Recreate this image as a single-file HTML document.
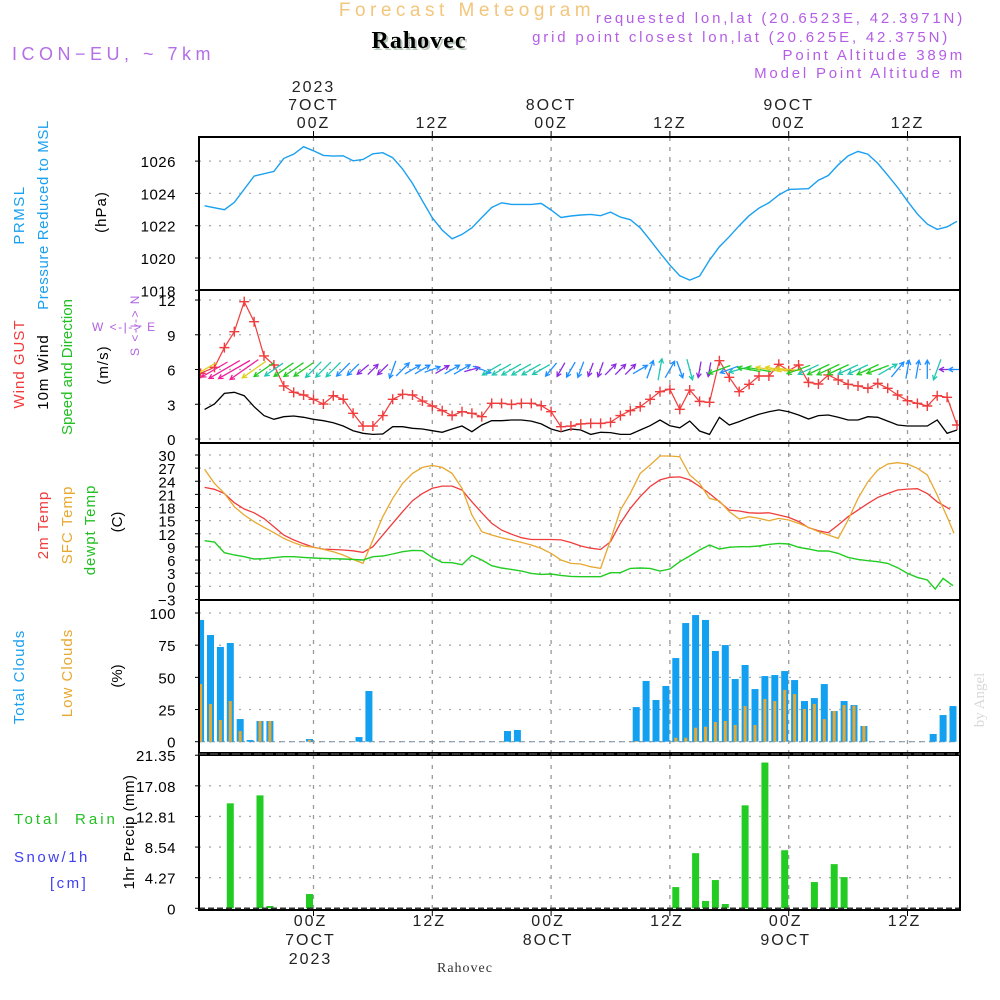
<!DOCTYPE html>
<html><head><meta charset="utf-8"><title>Forecast Meteogram Rahovec</title>
<style>
html,body{margin:0;padding:0;background:#fff;}
svg{display:block;font-family:"Liberation Sans",sans-serif;}
</style></head>
<body>
<svg id="chart" width="1000" height="1000" viewBox="0 0 1000 1000" xmlns="http://www.w3.org/2000/svg">
<rect x="0" y="0" width="1000" height="1000" fill="#fff"/>
<g>
<text x="467" y="16" text-anchor="middle" font-size="19" fill="#f3c67c" letter-spacing="4.5">Forecast Meteogram</text>
<text x="421" y="50" text-anchor="middle" font-size="24" font-weight="bold" font-family="Liberation Serif, serif" fill="#b8c8b8" letter-spacing="1">Rahovec</text>
<text x="419" y="48" text-anchor="middle" font-size="24" font-weight="bold" font-family="Liberation Serif, serif" fill="#000" letter-spacing="1">Rahovec</text>
<text x="12" y="60" font-size="18" fill="#b46ee6" letter-spacing="4.5">ICON−EU, ~ 7km</text>
<text x="965" y="23" text-anchor="end" font-size="15" fill="#b45ee6" letter-spacing="2.8">requested lon,lat (20.6523E, 42.3971N)</text>
<text x="950" y="42" text-anchor="end" font-size="15" fill="#b45ee6" letter-spacing="2.8">grid point closest lon,lat (20.625E, 42.375N)</text>
<text x="965" y="60" text-anchor="end" font-size="15" fill="#b45ee6" letter-spacing="2.8">Point Altitude 389m</text>
<text x="965" y="78" text-anchor="end" font-size="15" fill="#b45ee6" letter-spacing="2.8">Model Point Altitude m</text>
</g>
<g font-size="15">
<text transform="translate(24,215) rotate(-90)" text-anchor="middle" fill="#1aa0f0" letter-spacing="1.5">PRMSL</text>
<text transform="translate(48,215) rotate(-90)" text-anchor="middle" fill="#1aa0f0" letter-spacing="0.6">Pressure Reduced to MSL</text>
<text transform="translate(106,212) rotate(-90)" text-anchor="middle" fill="#000" letter-spacing="1">(hPa)</text>
<text transform="translate(24,364) rotate(-90)" text-anchor="middle" fill="#f03c3c" letter-spacing="1">Wind GUST</text>
<text transform="translate(48,372) rotate(-90)" text-anchor="middle" fill="#000" letter-spacing="1">10m Wind</text>
<text transform="translate(72,367) rotate(-90)" text-anchor="middle" fill="#22c022">Speed and Direction</text>
<text transform="translate(108,365) rotate(-90)" text-anchor="middle" fill="#000" letter-spacing="1">(m/s)</text>
<text x="92" y="331" font-size="12" fill="#b060e0" letter-spacing="1.5">W &lt;-|-&gt; E</text>
<text transform="translate(139,325) rotate(-90)" text-anchor="middle" font-size="12" fill="#b060e0" letter-spacing="1.5">S &lt;-|-&gt; N</text>
<text transform="translate(48,525) rotate(-90)" text-anchor="middle" fill="#f03c3c" letter-spacing="1">2m Temp</text>
<text transform="translate(72,525) rotate(-90)" text-anchor="middle" fill="#e8a830" letter-spacing="1">SFC Temp</text>
<text transform="translate(95,530) rotate(-90)" text-anchor="middle" fill="#22c022" letter-spacing="1">dewpt Temp</text>
<text transform="translate(122,522) rotate(-90)" text-anchor="middle" fill="#000">(C)</text>
<text transform="translate(24,677) rotate(-90)" text-anchor="middle" fill="#1aa0f0" letter-spacing="1">Total Clouds</text>
<text transform="translate(72,673) rotate(-90)" text-anchor="middle" fill="#e8a830" letter-spacing="1">Low Clouds</text>
<text transform="translate(122,676) rotate(-90)" text-anchor="middle" fill="#000">(%)</text>
<text x="14" y="824" fill="#22c022" letter-spacing="3" xml:space="preserve">Total  Rain</text>
<text x="14" y="862" fill="#4040f0" letter-spacing="2.5">Snow/1h</text>
<text x="50" y="888" fill="#4040f0" letter-spacing="2.5">[cm]</text>
<text transform="translate(134,832) rotate(-90)" text-anchor="middle" fill="#000" letter-spacing="0.5">1hr Precip (mm)</text>
<text transform="translate(984,700) rotate(-90)" text-anchor="middle" font-family="Liberation Serif, serif" font-size="15" fill="#d8d8d8">by Angel</text>
<text x="465" y="972" text-anchor="middle" font-family="Liberation Serif, serif" font-size="14" fill="#333" letter-spacing="1">Rahovec</text>
</g>
<g id="plots"></g>
</svg>
<script>
// ---------- data ----------
const timeTicks = [0, 12, 24, 36, 48, 60];
const timeTickLabels = ["00Z", "12Z", "00Z", "12Z", "00Z", "12Z"];
const dayLabels = ["7OCT", "", "8OCT", "", "9OCT", ""];

const pHours = [-11,-9,-8,-6,-4,-3,-2,-1,0,1,2,3,4,5,6,7,8,9,10,11,12,13,14,15,16,17,18,19,20,21,22,23,24,25,26,27,28,29,30,31,32,33,34,35,36,37,38,39,40,41,42,43,44,45,46,47,48,50,51,52,53,54,55,56,57,58,59,60,61,62,63,64,65];
const pValues = [1023.23,1022.99,1023.44,1025.07,1025.36,1026.17,1026.43,1026.89,1026.64,1026.35,1026.31,1026.33,1026.02,1026.10,1026.45,1026.52,1026.21,1025.51,1024.62,1023.54,1022.49,1021.73,1021.19,1021.46,1021.87,1022.51,1023.13,1023.42,1023.32,1023.32,1023.32,1023.38,1022.97,1022.51,1022.6,1022.66,1022.7,1022.62,1022.84,1022.53,1022.37,1021.87,1021.11,1020.32,1019.56,1018.9,1018.63,1018.88,1019.87,1020.7,1021.32,1022.0,1022.62,1023.09,1023.42,1023.9,1024.25,1024.29,1024.82,1025.11,1025.77,1026.33,1026.6,1026.43,1025.86,1025.13,1024.37,1023.52,1022.72,1022.1,1021.77,1021.93,1022.27];
const pTicks = [1018, 1020, 1022, 1024, 1026];

const gustFirstHour = -11.4;
const gustValues = [5.67,6.19,7.89,9.27,11.86,10.13,7.17,6.39,4.58,4.03,3.80,3.43,3.02,3.74,3.43,2.22,1.12,1.12,2.02,3.43,3.86,3.80,3.28,2.85,2.45,2.02,2.36,2.22,1.93,3.08,3.08,2.99,3.08,3.08,2.88,2.36,1.06,1.12,1.30,1.35,1.35,1.44,2.02,2.45,2.79,3.43,4.09,4.29,2.56,4.23,3.25,3.17,6.76,5.33,4.09,4.72,5.44,5.44,6.45,5.90,6.39,4.89,4.75,5.53,5.10,4.72,4.58,4.38,4.81,4.38,3.80,3.31,3.08,2.85,3.74,3.60,1.21];
const windStartHour = -11;
const windSpeed = [2.56,3.02,3.94,4.03,3.74,2.79,2.02,1.70,1.93,1.99,1.87,1.70,1.58,1.41,1.12,0.72,0.49,0.40,0.43,1.06,1.06,0.92,0.86,0.72,0.58,0.86,1.12,0.63,1.21,1.58,1.58,1.64,1.64,1.55,1.30,0.86,0.63,0.86,0.78,0.40,0.58,0.55,0.40,0.40,0.78,1.15,1.64,1.15,0.97,1.55,0.69,0.40,1.87,1.21,1.50,1.84,2.13,2.36,2.51,2.36,2.07,1.73,2.02,2.07,1.87,1.64,1.64,1.93,1.87,1.55,1.21,1.12,1.12,1.12,1.64,0.49,0.78];
// direction the arrow points to (compass degrees, 0 = north/up)
const windDirTo = [240,240,240,240,235,235,235,235,235,235,235,225,225,225,225,225,230,45,225,200,45,60,60,70,60,60,60,75,110,240,240,240,240,240,240,220,210,210,200,200,200,45,45,45,60,20,10,30,160,165,190,190,250,250,255,280,280,280,280,275,250,245,245,245,245,245,245,245,250,60,40,10,10,0,200,270,270];
const windTicks = [0, 3, 6, 9, 12];

const tempStartHour = -11;
const temp2m = [22.6,22.15,21.2,19.1,17.65,16.8,15.5,13.6,11.7,10.6,9.7,8.9,8.5,8.4,8.3,8.1,7.75,9.05,11.7,14.4,17.05,19.55,21.2,22.4,22.9,22.9,22.0,19.3,16.8,14.4,12.85,11.9,11.1,10.7,10.7,10.7,10.6,10.0,9.2,8.7,8.4,10.2,14.4,17.8,20.5,22.8,24.3,24.9,25.0,24.3,22.8,21.2,19.3,17.4,17.2,16.8,16.7,16.8,16.3,15.75,14.8,13.4,12.7,12.25,14.0,15.9,17.4,18.95,20.3,21.2,22.0,22.2,22.3,21.2,19.3,17.6];
const temp2mLastHour = 64.3;
const tempSfc = [26.72,23.52,21.23,18.19,16.28,14.76,13.47,12.25,10.95,9.96,9.2,8.9,8.44,7.9,7.14,6.15,5.24,10.57,15.9,20.09,23.52,25.8,27.17,27.63,27.17,25.8,22.38,16.28,12.48,11.71,11.1,10.57,10.04,9.43,8.67,7.52,6.0,5.24,5.09,4.48,4.1,10.57,17.43,21.23,25.8,27.71,29.76,29.76,29.61,25.42,23.52,20.09,19.48,17.04,15.37,15.9,15.52,14.99,15.52,15.14,14.38,13.47,12.48,11.71,10.95,15.14,20.09,23.9,26.57,27.94,28.24,27.94,26.95,25.42,20.85,15.9,12.1];
const tempSfcLastHour = 64.7;
const dewpt = [10.42,10.11,7.68,7.14,6.76,6.23,6.31,6.53,6.76,6.76,6.61,6.46,6.38,6.31,6.23,6.15,6.0,6.76,6.92,7.37,7.9,8.21,8.13,6.61,5.47,5.39,4.94,7.07,6.0,4.71,4.17,3.87,3.49,2.95,2.73,2.8,2.5,2.27,2.19,2.19,2.19,3.11,3.11,4.1,4.17,4.1,3.49,3.95,5.62,6.92,8.29,9.43,8.52,8.9,9.05,9.05,9.2,9.58,9.81,9.66,8.9,8.52,8.06,8.06,7.52,6.61,6.15,5.85,5.62,5.24,4.25,2.95,2.04,1.43,-0.62,1.81,0.14];
const dewptTailHours = [62.8, 63.6, 64.6];
const tempTicks = [-3,0,3,6,9,12,15,18,21,24,27,30];

const cloudStartHour = -11;
const totalClouds = [94.6,82.9,73.6,76.7,17.6,1.3,16.1,16.1,0,0,0,2.1,0,0,0,0,3.6,39.4,0,0,0,0,0,0,0,0,0,0,0,0,0,8.3,9.1,0,0,0,0,0,0,0,0,0,0,0,26.9,47.2,32.4,43.3,65,92.2,98.4,94.6,70.5,75.1,48.7,59.6,40.9,51,51.8,54.9,47.9,31.6,33.9,44.8,23.8,31.6,28.5,12.2,0,0,0,0,0,0,6,20.7,27.7];
const lowClouds = [44.8,29.3,16.8,31.6,8.3,0,16.1,16.1,0,0,0,1.5,0,0,0,0,0,0,0,0,0,0,0,0,0,0,0,0,0,0,0,0,0,0,0,0,0,0,0,0,0,0,0,0,0.5,0,0,0,3.1,3.1,10.9,11.7,15.3,16.1,13.0,27.7,13.0,33.2,31.6,40.2,37.0,25.4,29.3,17.6,23.8,28.5,28.0,12.2,0,0,0,0,0,0,0,0,0];
const cloudTicks = [0, 25, 50, 75, 100];

const precipHours = [-8,-5,-4,0,37,39,40,41,42,44,46,48,51,53,54];
const precipValues = [14.64,15.75,0.32,1.99,2.96,7.69,1.02,3.94,0.6,14.36,20.33,8.1,3.66,6.16,4.35];
const precipTicks = [0, 4.27, 8.54, 12.81, 17.08, 21.35];

// ---------- scales ----------
const X0 = 199, X1 = 960;
function xH(h){ return 313.5 + 9.9*h; }
function yP(v){ return 258 - (v-1020)*16.15; }
function yW(v){ return 439 - v*11.58; }
function yT(v){ return 586.3 - v*4.377; }
function yC(v){ return 741.7 - v*1.287; }
function yR(v){ return 908.3 - v*7.17; }

const NS = "http://www.w3.org/2000/svg";
const root = document.getElementById("plots");
function mk(tag, attrs, parent){
  const e = document.createElementNS(NS, tag);
  for (const k in attrs) e.setAttribute(k, attrs[k]);
  (parent||root).appendChild(e);
  return e;
}

const defs = mk("defs", {});
const cp = mk("clipPath", {id:"plotclip"}, defs);
mk("rect", {x:X0, y:137, width:X1-X0, height:775}, cp);

const panels = [
  {name:"pressure", top:137, bot:290, ticks:pTicks, fy:yP, fmt:v=>String(v)},
  {name:"wind", top:290, bot:443, ticks:windTicks, fy:yW, fmt:v=>String(v)},
  {name:"temperature", top:443, bot:600, ticks:tempTicks, fy:yT, fmt:v=>(v<0?"−"+(-v):String(v))},
  {name:"clouds", top:600, bot:753, ticks:cloudTicks, fy:yC, fmt:v=>String(v)},
  {name:"precip", top:755, bot:910, ticks:precipTicks, fy:yR, fmt:v=>(v===0?"0":v.toFixed(2))}
];

panels.forEach(p => {
  const g = mk("g", {});
  
  
  p.ticks.forEach(t => {
    const y = p.fy(t);
    if (y > p.top + 2 && y < p.bot - 2) {
      const gl = mk("line", {x1:X0, x2:X1, y1:y, y2:y, stroke:"#aaa", "stroke-width":1.3, "stroke-dasharray":"2,8"}, g);
      
      
    }
    const tk = mk("line", {x1:X0-4, x2:X0, y1:y, y2:y, stroke:"#000", "stroke-width":1}, g);
    
    
    const tl = mk("text", {x:176, y:y+6, "text-anchor":"end", "font-size":15, fill:"#000", "letter-spacing":"0.5"}, g);
    tl.textContent = p.fmt(t);
    
    
  });
  timeTicks.forEach(h => {
    const vl = mk("line", {x1:xH(h), x2:xH(h), y1:p.top, y2:p.bot, stroke:"#999", "stroke-width":1.3, "stroke-dasharray":"4,6"}, g);
    
    
  });
});

function polyline(hours, vals, fy, color, name, width){
  const pts = hours.map((h,i) => xH(h).toFixed(1) + "," + fy(vals[i]).toFixed(1)).join(" ");
  const pl = mk("polyline", {points:pts, fill:"none", stroke:color, "stroke-width":width||1.3, "clip-path":"url(#plotclip)"});
  
  
  return pl;
}
function seq(start, n){ const a=[]; for(let i=0;i<n;i++) a.push(start+i); return a; }

polyline(pHours, pValues, yP, "#1aa0f0", "pressure-line", 1.4);

const windHours = seq(windStartHour, windSpeed.length);
polyline(windHours, windSpeed, yW, "#000", "wind-speed-line", 1.3);

const gustHours = [gustFirstHour].concat(seq(-10, gustValues.length-1));
polyline(gustHours, gustValues, yW, "#f03c3c", "gust-line", 1.2);
gustHours.forEach((h,i) => {
  const x = xH(h), y = yW(gustValues[i]);
  if (x < X0-1 || x > X1+1) return;
  const c = mk("path", {d:`M${x-5},${y}H${x+5}M${x},${y-5}V${y+5}`, stroke:"#f03c3c", "stroke-width":1.4, "clip-path":"url(#plotclip)"});
  
  
});

function speedColor(s){
  if (s < 0.7) return "#8a2be2";
  if (s < 1.3) return "#1e90ff";
  if (s < 1.8) return "#20c8b0";
  if (s < 2.3) return "#22cc22";
  if (s < 3.0) return "#e0d020";
  return "#f0209a";
}
windHours.forEach((h,i) => {
  const s = windSpeed[i], d = windDirTo[i]*Math.PI/180;
  const L = 12 + s*6;
  const cx = xH(h), cy = yW(6);
  const dx = Math.sin(d)*L/2, dy = -Math.cos(d)*L/2;
  const x1 = cx-dx, y1 = cy-dy, x2 = cx+dx, y2 = cy+dy;
  const a = Math.atan2(y2-y1, x2-x1);
  const hl = 5;
  const hx1 = x2 - hl*Math.cos(a-0.5), hy1 = y2 - hl*Math.sin(a-0.5);
  const hx2 = x2 - hl*Math.cos(a+0.5), hy2 = y2 - hl*Math.sin(a+0.5);
  const col = speedColor(s);
  const ar = mk("path", {d:`M${x1.toFixed(1)},${y1.toFixed(1)}L${x2.toFixed(1)},${y2.toFixed(1)}M${hx1.toFixed(1)},${hy1.toFixed(1)}L${x2.toFixed(1)},${y2.toFixed(1)}L${hx2.toFixed(1)},${hy2.toFixed(1)}`, stroke:col, "stroke-width":1.3, fill:"none", "clip-path":"url(#plotclip)"});
  
  
});

const t2Hours = seq(tempStartHour, temp2m.length-1).concat([temp2mLastHour]);
polyline(t2Hours, temp2m, yT, "#f03c3c", "temp-2m-line", 1.3);
const tsHours = seq(tempStartHour, tempSfc.length-1).concat([tempSfcLastHour]);
polyline(tsHours, tempSfc, yT, "#e8a830", "temp-sfc-line", 1.3);
const dpHours = seq(tempStartHour, dewpt.length-dewptTailHours.length).concat(dewptTailHours);
polyline(dpHours, dewpt, yT, "#22cc22", "dewpoint-line", 1.4);

const cBase = mk("line", {x1:X0, x2:X1, y1:yC(0), y2:yC(0), stroke:"#8899aa", "stroke-width":1.2, "stroke-dasharray":"6,4"});


totalClouds.forEach((v,i) => {
  const h = cloudStartHour + i;
  const xc = xH(h) - 4;
  if (v > 0) {
    const b = mk("rect", {x:xc-3.5, y:yC(v), width:7, height:yC(0)-yC(v), fill:"#14a0f0", "clip-path":"url(#plotclip)"});
    
    
  }
  const lv = lowClouds[i];
  if (lv > 0) {
    const lb = mk("rect", {x:xc-1.5, y:yC(lv), width:3, height:yC(0)-yC(lv), fill:"#e8a830", "clip-path":"url(#plotclip)"});
    
    
  }
});

precipHours.forEach((h,i) => {
  const v = precipValues[i];
  const xc = xH(h) - 4;
  const b = mk("rect", {x:xc-3.5, y:yR(v), width:7, height:yR(0)-yR(v), fill:"#22cc22"});
  
  
});
const pBase = mk("line", {x1:X0, x2:X1, y1:yR(0), y2:yR(0), stroke:"#333", "stroke-width":1.5, "stroke-dasharray":"6,3"});



panels.forEach(p => {
  const f = mk("rect", {x:X0, y:p.top, width:X1-X0, height:p.bot-p.top, fill:"none", stroke:"#000", "stroke-width":2});
  
  
});
const sep = mk("line", {x1:X0, x2:X1, y1:754, y2:754, stroke:"#444", "stroke-width":1.5, "stroke-dasharray":"8,3"});



const ls = "2";
timeTicks.forEach((h,i) => {
  const x = xH(h);
  const tt = mk("line", {x1:x, x2:x, y1:131, y2:137, stroke:"#000", "stroke-width":1});
  
  
  const bt = mk("line", {x1:x, x2:x, y1:910, y2:916, stroke:"#000", "stroke-width":1});
  
  
  const t1 = mk("text", {x:x, y:128, "text-anchor":"middle", "font-size":16, fill:"#222", "letter-spacing":ls});
  t1.textContent = timeTickLabels[i];
  
  
  const b1 = mk("text", {x:x-3, y:926, "text-anchor":"middle", "font-size":16, fill:"#222", "letter-spacing":ls});
  b1.textContent = timeTickLabels[i];
  
  
  if (dayLabels[i]) {
    const d1 = mk("text", {x:x, y:110, "text-anchor":"middle", "font-size":16, fill:"#222", "letter-spacing":ls});
    d1.textContent = dayLabels[i];
    
    
    const d2 = mk("text", {x:x-3, y:945, "text-anchor":"middle", "font-size":16, fill:"#222", "letter-spacing":ls});
    d2.textContent = dayLabels[i];
    
    
  }
  if (i === 0) {
    const y1 = mk("text", {x:x, y:92, "text-anchor":"middle", "font-size":16, fill:"#222", "letter-spacing":ls});
    y1.textContent = "2023";
    
    
    const y2 = mk("text", {x:x-3, y:964, "text-anchor":"middle", "font-size":16, fill:"#222", "letter-spacing":ls});
    y2.textContent = "2023";
    
    
  }
});
</script>
</body></html>
